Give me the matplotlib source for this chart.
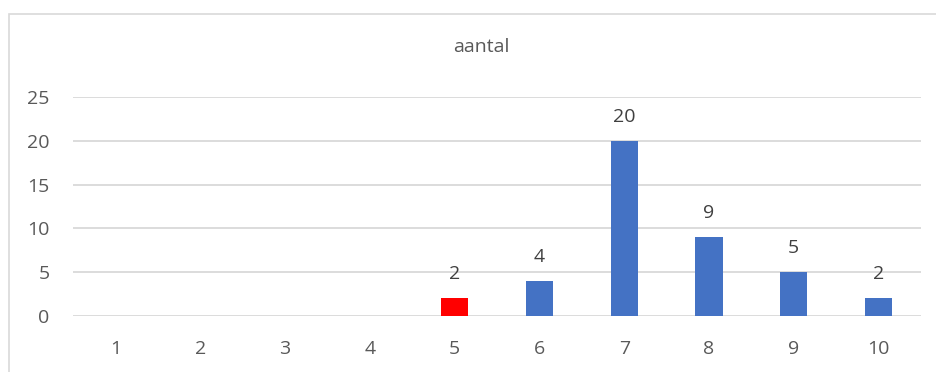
import matplotlib.pyplot as plt
from matplotlib.patches import Rectangle

categories = ["1", "2", "3", "4", "5", "6", "7", "8", "9", "10"]
aantal = [0, 0, 0, 0, 2, 4, 20, 9, 5, 2]
bar_colors = ["#4472C4", "#4472C4", "#4472C4", "#4472C4", "#FF0000",
              "#4472C4", "#4472C4", "#4472C4", "#4472C4", "#4472C4"]
y_ticks = [0, 5, 10, 15, 20, 25]

W, H = 937, 372
fig = plt.figure(figsize=(W / 100, H / 100), dpi=100)
plt.rcParams['font.family'] = ['Open Sans', 'DejaVu Sans']
text_color = "#595959"

# chart frame
fig.patches.append(Rectangle((9 / W, -0.1), 1.2, 1 - 14 / H + 0.1,
                             transform=fig.transFigure, fill=False,
                             edgecolor="#D9D9D9", linewidth=1.2, zorder=0))

left, right = 73 / W, 921 / W
bottom, top = 1 - 316 / H, 1 - 97 / H
ax = fig.add_axes([left, bottom, right - left, top - bottom])

x = list(range(len(categories)))
bars = ax.bar(x, aantal, width=0.32, color=bar_colors, zorder=3)
ax.set_xlim(-0.5, len(categories) - 0.5)
ax.set_ylim(0, 25)
ax.set_yticks(y_ticks)
ax.set_xticks(x)
ax.set_xticklabels(categories)
ax.grid(axis="y", color="#D9D9D9", linewidth=1.3, zorder=0)
for s in ax.spines.values():
    s.set_visible(False)
ax.tick_params(length=0, labelsize=14, colors=text_color)
ax.tick_params(axis="x", pad=17)
ax.tick_params(axis="y", pad=17)

for xi, v in zip(x, aantal):
    if v > 0:
        ax.annotate(str(v), (xi, v), xytext=(0, 11), textcoords="offset points",
                    ha="center", va="bottom", fontsize=14, color="#404040")

fig.text(481 / W, 1 - 47 / H, "aantal", ha="center", va="center",
         fontsize=14, color=text_color)

fig.savefig("out.png", dpi=100)
